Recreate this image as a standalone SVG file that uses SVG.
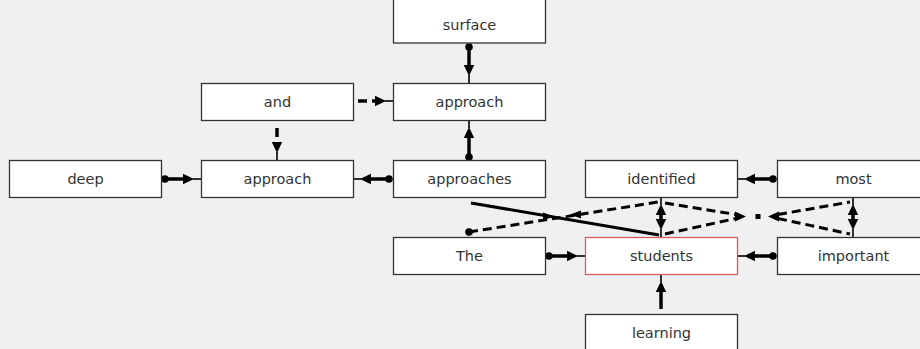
<svg xmlns="http://www.w3.org/2000/svg" width="920" height="349" viewBox="0 0 920 349">
  <style>
    .node rect { fill: #ffffff; stroke: #333333; stroke-width: 1.3; }
    .node.focus rect { stroke: #dd5a5a; }
    .node text { font-family: "DejaVu Sans", "Liberation Sans", sans-serif; font-size: 14.5px; fill: #333333; text-anchor: middle; }
    .edge { fill: none; stroke: #000000; stroke-width: 3.5; }
    .dash { stroke-dasharray: 9 5; }
    .thin { stroke-width: 3; }
    .head { fill: #000000; stroke: none; }
  </style>
  <defs>
    <marker id="arrow" markerUnits="userSpaceOnUse" markerWidth="20" markerHeight="12" refX="0" refY="6" orient="auto-start-reverse" overflow="visible">
      <path d="M-1,0.8 L10,6 L-1,11.2 Z" fill="#000000"/>
      <path d="M9,6 H17" stroke="#000000" stroke-width="1.6"/>
    </marker>
    <marker id="dot" markerUnits="userSpaceOnUse" markerWidth="8" markerHeight="8" refX="4" refY="4" orient="auto" overflow="visible">
      <circle cx="4" cy="4" r="3.8" fill="#000000"/>
    </marker>
  </defs>

  <rect x="0" y="0" width="920" height="349" fill="#f0f0f0"/>

  <g id="connectors">
    <!-- vertical links into the upper "approach" -->
    <path class="edge" d="M469,47 V66" marker-start="url(#dot)" marker-end="url(#arrow)"/>
    <path class="edge" d="M469,157 V137" marker-start="url(#dot)" marker-end="url(#arrow)"/>
    <path class="edge dash" d="M358,101 H376" marker-end="url(#arrow)"/>
    <path class="edge dash" d="M277,128 V143" marker-end="url(#arrow)"/>
    <!-- row 3 -->
    <path class="edge" d="M165,179 H184" marker-start="url(#dot)" marker-end="url(#arrow)"/>
    <path class="edge" d="M389,179 H370" marker-start="url(#dot)" marker-end="url(#arrow)"/>
    <path class="edge" d="M773,179 H754" marker-start="url(#dot)" marker-end="url(#arrow)"/>
    <!-- row 4 -->
    <path class="edge" d="M549,256 H568" marker-start="url(#dot)" marker-end="url(#arrow)"/>
    <path class="edge" d="M773,256 H754" marker-start="url(#dot)" marker-end="url(#arrow)"/>
    <path class="edge" d="M661,309 V291" marker-end="url(#arrow)"/>
    <!-- two-way verticals between rows 3 and 4 -->
    <path class="edge" d="M661,214 V220" marker-start="url(#arrow)" marker-end="url(#arrow)"/>
    <path class="edge" d="M853,214 V220" marker-start="url(#arrow)" marker-end="url(#arrow)"/>
    <!-- crossing pair on the left -->
    <path class="edge thin" d="M471,203 L659,235"/>
    <path class="edge dash thin" d="M469,232 L658,202" marker-start="url(#dot)"/>
    <path class="head" d="M543,212.5 L554,216.5 L543,220.5 Z"/>
    <path class="head" d="M581,210.5 L570,214.5 L581,218.5 Z"/>
    <!-- converging dashed pairs on the right -->
    <path class="edge dash thin" d="M665,203 L736,214.5"/>
    <path class="edge dash thin" d="M665,234 L736,218.5"/>
    <path class="head" d="M735,211.5 L746,216.5 L735,221.5 Z"/>
    <rect class="head" x="755.5" y="214" width="5" height="5"/>
    <path class="head" d="M779,211.5 L768,216.5 L779,221.5 Z"/>
    <path class="edge dash thin" d="M778,214.5 L850,202"/>
    <path class="edge dash thin" d="M778,218.5 L850,234"/>
  </g>

  <g id="node-surface" class="node"><rect x="393.5" y="-2" width="152" height="45"/><text x="469.5" y="30">surface</text></g>
  <g id="node-approach-top" class="node"><rect x="393.5" y="83.5" width="152" height="37"/><text x="469.5" y="107">approach</text></g>
  <g id="node-and" class="node"><rect x="201.5" y="83.5" width="152" height="37"/><text x="277.5" y="107">and</text></g>
  <g id="node-deep" class="node"><rect x="9.5" y="160.5" width="152" height="37"/><text x="85.5" y="184">deep</text></g>
  <g id="node-approach-mid" class="node"><rect x="201.5" y="160.5" width="152" height="37"/><text x="277.5" y="184">approach</text></g>
  <g id="node-approaches" class="node"><rect x="393.5" y="160.5" width="152" height="37"/><text x="469.5" y="184">approaches</text></g>
  <g id="node-identified" class="node"><rect x="585.5" y="160.5" width="152" height="37"/><text x="661.5" y="184">identified</text></g>
  <g id="node-most" class="node"><rect x="777.5" y="160.5" width="152" height="37"/><text x="853.5" y="184">most</text></g>
  <g id="node-the" class="node"><rect x="393.5" y="237.5" width="152" height="37"/><text x="469.5" y="261">The</text></g>
  <g id="node-students" class="node focus"><rect x="585.5" y="237.5" width="152" height="37"/><text x="661.5" y="261">students</text></g>
  <g id="node-important" class="node"><rect x="777.5" y="237.5" width="152" height="37"/><text x="853.5" y="261">important</text></g>
  <g id="node-learning" class="node"><rect x="585.5" y="314.5" width="152" height="40"/><text x="661.5" y="338">learning</text></g>
</svg>
